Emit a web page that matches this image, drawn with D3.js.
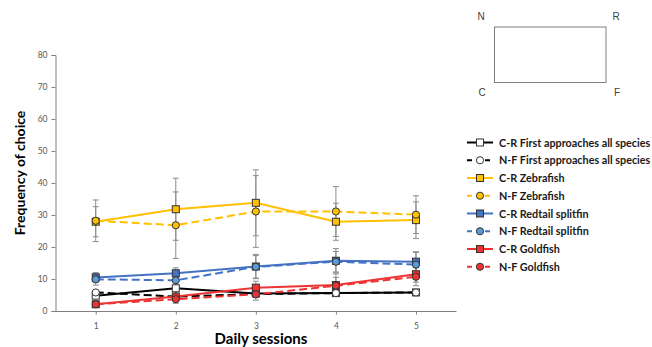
<!DOCTYPE html>
<html><head><meta charset="utf-8">
<script src="https://cdn.jsdelivr.net/npm/d3@7"></script>
<style>body{margin:0;background:#fff;}svg{display:block;}</style>
</head><body>
<svg id="c" width="652" height="347"></svg>
<script>
const sessions = [1, 2, 3, 4, 5];
const yTicks = [0, 10, 20, 30, 40, 50, 60, 70, 80];
const seriesNames = ["C-R First approaches all species","N-F First approaches all species","C-R Zebrafish","N-F Zebrafish","C-R Redtail splitfin","N-F Redtail splitfin","C-R Goldfish","N-F Goldfish"];
const firstCR = [4.8, 7.1, 5.5, 5.6, 5.8];
const firstCRerr = [0.6, 0.8, 1.2, 0.6, 0.6];
const firstNF = [5.8, 4.5, 5.3, 5.6, 5.8];
const firstNFerr = [0.6, 0.8, 1.0, 0.6, 0.6];
const zebraCR = [27.9, 31.8, 33.8, 27.9, 28.4];
const zebraCRerr = [4.7, 9.7, 10.3, 5.8, 5.7];
const zebraNF = [28.2, 26.8, 31.1, 31.1, 30.1];
const zebraNFerr = [6.5, 10.4, 11.2, 7.8, 5.9];
const redtailCR = [10.5, 11.8, 13.9, 15.7, 15.4];
const redtailCRerr = [1.5, 1.7, 3.8, 3.8, 3.1];
const redtailNF = [9.9, 9.6, 13.8, 15.4, 14.5];
const redtailNFerr = [1.8, 2.2, 3.5, 3.2, 3.8];
const goldCR = [2.1, 4.5, 7.3, 8.1, 11.5];
const goldCRerr = [0.6, 1.5, 2.0, 3.5, 2.5];
const goldNF = [2.1, 3.7, 5.2, 7.9, 10.7];
const goldNFerr = [0.6, 1.3, 1.8, 2.6, 2.8];
const cornerLabels = ["N", "R", "C", "F"];

const series = [
  {name: seriesNames[0], v: firstCR, e: firstCRerr, color: "#000000", fill: "#ffffff", dash: null, shape: "square"},
  {name: seriesNames[1], v: firstNF, e: firstNFerr, color: "#000000", fill: "#ffffff", dash: "8,4", shape: "circle"},
  {name: seriesNames[2], v: zebraCR, e: zebraCRerr, color: "#FFC000", fill: "#FFC000", dash: null, shape: "square"},
  {name: seriesNames[3], v: zebraNF, e: zebraNFerr, color: "#FFC000", fill: "#FFC000", dash: "8,4", shape: "circle"},
  {name: seriesNames[4], v: redtailCR, e: redtailCRerr, color: "#4472C4", fill: "#4472C4", dash: null, shape: "square"},
  {name: seriesNames[5], v: redtailNF, e: redtailNFerr, color: "#4472C4", fill: "#5B9BD5", dash: "8,4", shape: "circle"},
  {name: seriesNames[6], v: goldCR, e: goldCRerr, color: "#EE3333", fill: "#EE3333", dash: null, shape: "square"},
  {name: seriesNames[7], v: goldNF, e: goldNFerr, color: "#EE3333", fill: "#EE3333", dash: "8,4", shape: "circle"}
];

const svg = d3.select("#c");
const font = "Lato, 'Open Sans', sans-serif";
const x = d3.scaleLinear().domain([0.5, 5.5]).range([55.7, 456]);
const y = d3.scaleLinear().domain([0, 80]).range([311, 55]);

// y axis
const yAx = svg.append("g").attr("transform", "translate(55.5,0)")
  .call(d3.axisLeft(y).tickValues(yTicks).tickSize(4).tickPadding(4));
yAx.selectAll("path,line").attr("stroke", "#808080");
yAx.selectAll("text").attr("font-family", font).attr("font-size", 8.5).attr("fill", "#595959");

// x axis
const xAx = svg.append("g").attr("transform", "translate(0,311.5)")
  .call(d3.axisBottom(x).tickValues(sessions).tickSize(3).tickPadding(8).tickFormat(d3.format("d")));
xAx.select("path").attr("d", `M55.7,0H456.5`);
xAx.selectAll("path,line").attr("stroke", "#808080");
xAx.selectAll("text").attr("font-family", font).attr("font-size", 8.5).attr("fill", "#595959");

// titles
svg.append("text").attr("x", 261).attr("y", 344).attr("text-anchor", "middle")
  .attr("font-family", font).attr("font-weight", "bold").attr("font-size", 15).text("Daily sessions");
svg.append("text").attr("transform", "translate(25,173) rotate(-90)").attr("text-anchor", "middle")
  .attr("font-family", font).attr("font-weight", "bold").attr("font-size", 14).text("Frequency of choice");

// error bars
const eb = svg.append("g");
series.forEach(s => {
  sessions.forEach((d, i) => {
    const cx = x(d), top = y(s.v[i] + s.e[i]), bot = y(Math.max(0, s.v[i] - s.e[i]));
    eb.append("line").attr("x1", cx).attr("x2", cx).attr("y1", top).attr("y2", bot).attr("stroke", "#8c8c8c").attr("stroke-width", 1);
    [top, bot].forEach(yy => eb.append("line").attr("x1", cx - 3).attr("x2", cx + 3).attr("y1", yy).attr("y2", yy).attr("stroke", "#8c8c8c").attr("stroke-width", 1));
  });
});

const line = d3.line().x((d, i) => x(sessions[i])).y(d => y(d));
function marker(g, shape, cx, cy, fill) {
  if (shape === "square") {
    g.append("rect").attr("x", cx - 3.5).attr("y", cy - 3.5).attr("width", 7).attr("height", 7)
      .attr("fill", fill).attr("stroke", "#333").attr("stroke-width", 1);
  } else {
    g.append("circle").attr("cx", cx).attr("cy", cy).attr("r", 3.6)
      .attr("fill", fill).attr("stroke", "#333").attr("stroke-width", 1);
  }
}
series.forEach(s => {
  const g = svg.append("g");
  g.append("path").attr("d", line(s.v)).attr("fill", "none").attr("stroke", s.color)
    .attr("stroke-width", 2).attr("stroke-dasharray", s.dash);
  s.v.forEach((v, i) => marker(g, s.shape, x(sessions[i]), y(v), s.fill));
});

// legend
const lg = svg.append("g");
series.forEach((s, i) => {
  const ly = 142.5 + i * 17.75;
  lg.append("line").attr("x1", 467).attr("x2", 493).attr("y1", ly).attr("y2", ly)
    .attr("stroke", s.color).attr("stroke-width", 2).attr("stroke-dasharray", s.dash ? "5,4" : null);
  marker(lg, s.shape, 480, ly, s.fill);
  lg.append("text").attr("x", 499).attr("y", ly + 4).attr("font-family", font)
    .attr("font-weight", "bold").attr("font-size", 10.8).attr("fill", "#1a1a1a").text(s.name);
});

// diagram
svg.append("rect").attr("x", 494.5).attr("y", 27).attr("width", 111.5).attr("height", 55.5)
  .attr("fill", "none").attr("stroke", "#808080").attr("stroke-width", 1);
const cornerPos = [[481, 20], [616, 20], [482, 96], [617, 96]];
cornerLabels.forEach((t, i) => svg.append("text").attr("x", cornerPos[i][0]).attr("y", cornerPos[i][1])
  .attr("text-anchor", "middle").attr("font-family", "'Liberation Sans', Arial, sans-serif")
  .attr("font-size", 10).attr("fill", "#404040").text(t));
</script>
</body></html>
